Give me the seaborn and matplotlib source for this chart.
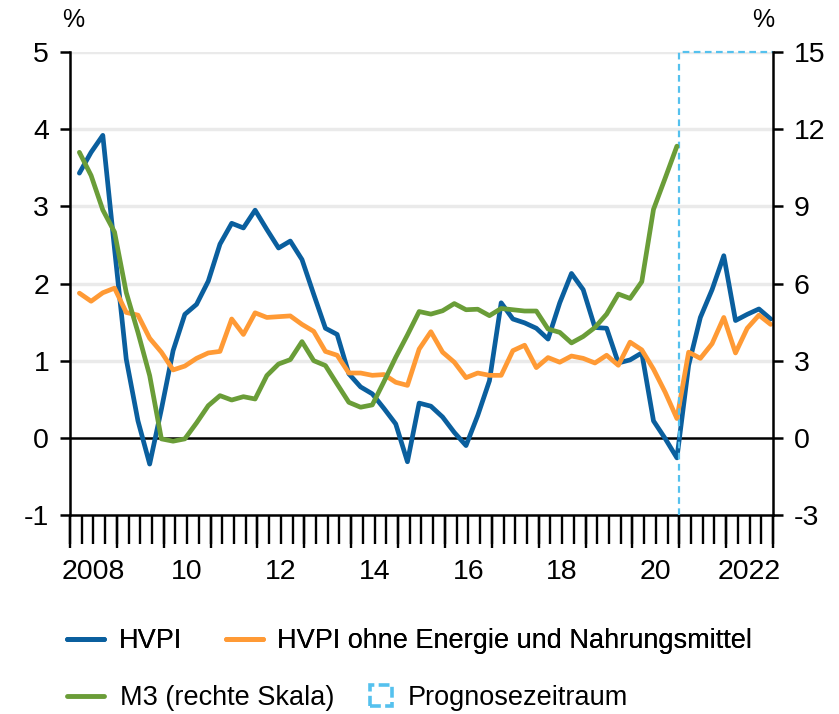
import numpy as np
import pandas as pd
import seaborn as sns
import matplotlib.pyplot as plt
from matplotlib.lines import Line2D
from matplotlib.patches import Patch, Rectangle
from matplotlib.legend_handler import HandlerPatch

# quarterly data, 2008Q1 - 2022Q4
quarters = pd.period_range("2008Q1", "2022Q4", freq="Q")

hvpi = [3.43, 3.70, 3.92, 2.45, 1.02, 0.22, -0.34, 0.37, 1.13, 1.60,
        1.73, 2.03, 2.51, 2.78, 2.72, 2.95, 2.70, 2.46, 2.55, 2.31,
        1.86, 1.42, 1.34, 0.83, 0.66, 0.57, 0.38, 0.18, -0.31, 0.45,
        0.41, 0.27, 0.07, -0.10, 0.29, 0.74, 1.75, 1.54, 1.49, 1.42,
        1.28, 1.75, 2.13, 1.92, 1.43, 1.42, 0.97, 1.01, 1.10, 0.22,
        -0.01, -0.26, 0.94, 1.56, 1.92, 2.36, 1.52, 1.60, 1.67, 1.54]

core = [1.875, 1.77, 1.88, 1.94, 1.625, 1.59, 1.29, 1.11, 0.88, 0.93,
        1.03, 1.10, 1.12, 1.54, 1.34, 1.62, 1.56, 1.57, 1.58, 1.47,
        1.38, 1.12, 1.07, 0.84, 0.84, 0.81, 0.82, 0.72, 0.68, 1.15,
        1.375, 1.11, 0.98, 0.78, 0.84, 0.81, 0.81, 1.13, 1.20, 0.91,
        1.04, 0.98, 1.06, 1.03, 0.97, 1.07, 0.94, 1.24, 1.14, 0.89,
        0.59, 0.25, 1.11, 1.03, 1.22, 1.56, 1.10, 1.42, 1.59, 1.47]

# M3, right scale, only up to 2020Q4
m3 = [11.1, 10.2, 8.86, 8.0, 5.65, 4.1, 2.42, -0.04, -0.13, -0.04,
      0.58, 1.25, 1.64, 1.47, 1.60, 1.51, 2.42, 2.87, 3.04, 3.74,
      3.0, 2.81, 2.09, 1.38, 1.19, 1.28, 2.19, 3.13, 4.0, 4.91,
      4.81, 4.94, 5.22, 4.98, 5.0, 4.75, 5.03, 4.98, 4.93, 4.93,
      4.23, 4.10, 3.69, 3.94, 4.29, 4.81, 5.59, 5.42, 6.07, 8.88,
      10.1, 11.34]

label_years = [2008, 2010, 2012, 2014, 2016, 2018, 2020, 2022]
year_labels = ["2008", "10", "12", "14", "16", "18", "20", "2022"]
forecast_start = 2021.0
x_end = 2023.0

BLUE = "#0A5F9E"
ORANGE = "#FF9A35"
GREEN = "#6A9D38"
LIGHTBLUE = "#55C1EE"

df = pd.DataFrame({
    "t": quarters.year + quarters.quarter * 0.25 - 0.05,
    "hvpi": hvpi,
    "core": core,
    "m3": m3 + [np.nan] * (len(quarters) - len(m3)),
})

sns.set_style("white")
plt.rcParams["font.family"] = ["Liberation Sans", "DejaVu Sans"]
plt.rcParams["axes.unicode_minus"] = False
plt.rcParams["text.color"] = "black"
plt.rcParams["xtick.color"] = "black"
plt.rcParams["ytick.color"] = "black"
plt.rcParams["xtick.labelcolor"] = "black"
plt.rcParams["ytick.labelcolor"] = "black"

fig = plt.figure(figsize=(8.39, 7.14), dpi=100)
ax = fig.add_axes([70 / 839, 1 - 515 / 714, 703 / 839, 463 / 714])

for y in range(1, 6):
    ax.axhline(y, color="#EAEAEA", lw=2.5, zorder=0)
ax.axhline(0, color="black", lw=1.8, zorder=1)

sns.lineplot(data=df, x="t", y="hvpi", ax=ax, color=BLUE, lw=3.4, zorder=3)
sns.lineplot(data=df, x="t", y="core", ax=ax, color=ORANGE, lw=3.4, zorder=3)

ax2 = ax.twinx()
sns.lineplot(data=df, x="t", y="m3", ax=ax2, color=GREEN, lw=3.4, zorder=3)
# forecast period box (left and top edges; the rest lies on the spines)
ax2.plot([forecast_start, forecast_start, x_end], [-3, 15, 15],
         color=LIGHTBLUE, ls=(0, (3, 2)), lw=1.6, zorder=2, clip_on=False)

ax.set_xlim(2008, x_end)
ax.set_ylim(-1, 5)
ax2.set_ylim(-3, 15)
ax.set_yticks(range(-1, 6))
ax2.set_yticks(range(-3, 16, 3))
ax.set_xlabel("")
ax.set_ylabel("")
ax2.set_ylabel("")

# labels centred in the year, short ticks every quarter, long ticks at years
ax.xaxis.remove_overlapping_locs = False
ax.set_xticks([y + 0.5 for y in label_years], year_labels)
ax.set_xticks(np.arange(2008, x_end + 0.01, 0.25), minor=True)
ax.tick_params(axis="x", which="major", length=0, pad=32, labelsize=20.5)
ax.tick_params(axis="x", which="minor", length=21, width=1.7, direction="out",
               bottom=True)
ax.tick_params(axis="y", length=7, width=1.8, direction="out", pad=8,
               labelsize=20.5, left=True)
ax2.tick_params(axis="y", length=7, width=1.8, direction="out", pad=8,
                labelsize=20.5, right=True)

sec = ax.secondary_xaxis("bottom")
sec.set_xticks(range(2008, 2024))
sec.tick_params(length=24, width=1.7, direction="out", labelbottom=False,
                bottom=True)
sec.spines["bottom"].set_visible(False)

for a in (ax, ax2):
    for s in a.spines.values():
        s.set_visible(False)
ax.spines["left"].set_visible(True)
ax.spines["bottom"].set_visible(True)
ax2.spines["right"].set_visible(True)
for s in (ax.spines["left"], ax.spines["bottom"], ax2.spines["right"]):
    s.set_color("black")
    s.set_linewidth(1.8)
    s.set_zorder(5)

fig.text(73 / 839, 1 - 20 / 714, "%", ha="center", va="center", fontsize=18)
fig.text(763 / 839, 1 - 20 / 714, "%", ha="center", va="center", fontsize=18)


def small_box(legend, orig_handle, xdescent, ydescent, width, height, fontsize):
    s = fontsize * 0.8
    return Rectangle((width - xdescent - s, -ydescent + (height - s) / 2), s, s)


h_hvpi = Line2D([0], [0], color=BLUE, lw=3.5)
h_core = Line2D([0], [0], color=ORANGE, lw=3.5)
h_m3 = Line2D([0], [0], color=GREEN, lw=3.5)
h_fc = Patch(facecolor="none", edgecolor=LIGHTBLUE, ls=(0, (3, 1.2)), lw=2.6)

leg1 = fig.legend([h_hvpi, h_core], ["HVPI", "HVPI ohne Energie und Nahrungsmittel"],
                  loc="center left", bbox_to_anchor=(43 / 839, 1 - 641 / 714),
                  ncol=2, frameon=False, fontsize=19.5, handlelength=1.36,
                  columnspacing=1.6, handletextpad=0.55)
fig.legend([h_m3, h_fc], ["M3 (rechte Skala)", "Prognosezeitraum"],
           loc="center left", bbox_to_anchor=(43 / 839, 1 - 698 / 714),
           ncol=2, frameon=False, fontsize=19.5, handlelength=1.36,
           columnspacing=0.75, handletextpad=0.6,
           handler_map={h_fc: HandlerPatch(patch_func=small_box)})
fig.add_artist(leg1)

fig.savefig("out.png", dpi=100)
